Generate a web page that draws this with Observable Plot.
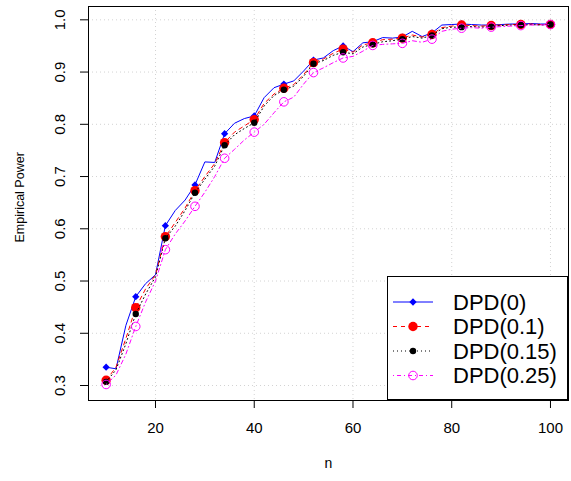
<!DOCTYPE html>
<html>
<head>
<meta charset="utf-8">
<script src="https://cdn.jsdelivr.net/npm/d3@7"></script>
<script src="https://cdn.jsdelivr.net/npm/@observablehq/plot@0.6"></script>
<style>
  body { margin: 0; background: white; }
</style>
</head>
<body>
<div id="chart"></div>
<script>
// sample sizes
const nValues = [10,12,14,16,18,20,22,24,26,28,30,32,34,36,38,40,42,44,46,48,50,52,54,56,58,60,62,64,66,68,70,72,74,76,78,80,82,84,86,88,90,92,94,96,98,100];
// empirical power for each DPD tuning parameter
const dpd0 = [0.335,0.332,0.415,0.470,0.495,0.512,0.606,0.635,0.655,0.684,0.728,0.727,0.782,0.802,0.811,0.816,0.851,0.870,0.877,0.883,0.902,0.923,0.927,0.941,0.950,0.939,0.956,0.958,0.966,0.965,0.967,0.978,0.968,0.975,0.990,0.991,0.992,0.991,0.990,0.990,0.991,0.992,0.992,0.993,0.992,0.992];
const dpd01 = [0.310,0.335,0.390,0.449,0.485,0.512,0.585,0.612,0.640,0.673,0.700,0.725,0.765,0.785,0.797,0.809,0.840,0.858,0.869,0.876,0.895,0.918,0.925,0.936,0.944,0.938,0.952,0.956,0.962,0.963,0.965,0.971,0.967,0.972,0.985,0.988,0.990,0.989,0.988,0.989,0.990,0.991,0.991,0.992,0.991,0.991];
const dpd015 = [0.307,0.330,0.380,0.437,0.475,0.508,0.582,0.605,0.635,0.669,0.695,0.720,0.760,0.780,0.792,0.803,0.835,0.855,0.866,0.873,0.892,0.916,0.922,0.932,0.938,0.935,0.948,0.953,0.958,0.960,0.963,0.968,0.965,0.970,0.983,0.986,0.986,0.987,0.986,0.987,0.989,0.990,0.990,0.991,0.990,0.991];
const dpd025 = [0.302,0.320,0.360,0.413,0.460,0.500,0.560,0.590,0.615,0.643,0.670,0.700,0.735,0.752,0.770,0.785,0.800,0.822,0.843,0.852,0.877,0.899,0.908,0.918,0.927,0.930,0.940,0.951,0.953,0.954,0.955,0.960,0.957,0.963,0.978,0.982,0.984,0.985,0.984,0.986,0.987,0.988,0.989,0.990,0.990,0.991];
// markers are drawn at these sample sizes
const markerN = [10,16,22,28,34,40,46,52,58,64,70,76,82,88,94,100];
const seriesNames = ["DPD(0)", "DPD(0.1)", "DPD(0.15)", "DPD(0.25)"];
const xTicks = [20, 40, 60, 80, 100];
const yTicks = [0.3, 0.4, 0.5, 0.6, 0.7, 0.8, 0.9, 1.0];
const xLabel = "n";
const yLabel = "Empirical Power";

const seriesValues = [dpd0, dpd01, dpd015, dpd025];
const styles = [
  {stroke: "#0000ff", dash: null, symbol: "square", rotate: 45, r: 2.9, fill: "#0000ff", mstroke: "none"},
  {stroke: "#ff0000", dash: "4,4", symbol: "circle", rotate: 0, r: 4.7, fill: "#ff0000", mstroke: "none"},
  {stroke: "#000000", dash: "1,3", symbol: "circle", rotate: 0, r: 3.2, fill: "#000000", mstroke: "none"},
  {stroke: "#ff00ff", dash: "1,3,4,3", symbol: "circle", rotate: 0, r: 4.3, fill: "none", mstroke: "#ff00ff"}
];

const seriesMarks = [];
seriesNames.forEach((name, i) => {
  const rows = nValues.map((n, j) => ({n, v: seriesValues[i][j], series: name}));
  const pts = rows.filter(d => markerN.includes(d.n));
  const s = styles[i];
  seriesMarks.push(Plot.line(rows, {x: "n", y: "v", stroke: s.stroke, strokeWidth: 1, strokeDasharray: s.dash}));
  seriesMarks.push(Plot.dot(pts, {x: "n", y: "v", symbol: s.symbol, rotate: s.rotate, r: s.r, fill: s.fill, stroke: s.mstroke, strokeWidth: 1}));
});

const chart = Plot.plot({
  width: 571,
  height: 481,
  marginLeft: 88,
  marginRight: 3,
  marginTop: 6,
  marginBottom: 81,
  x: {domain: [6.43, 103.65]},
  y: {domain: [0.2713, 1.0255]},
  style: {fontFamily: "'Liberation Sans', Arial, sans-serif", fontSize: "15px", background: "white", color: "black", overflow: "visible"},
  marks: [
    Plot.gridX({ticks: xTicks, stroke: "#d3d3d3", strokeOpacity: 1, strokeDasharray: "1,3"}),
    Plot.gridY({ticks: yTicks, stroke: "#d3d3d3", strokeOpacity: 1, strokeDasharray: "1,3"}),
    ...seriesMarks,
    Plot.frame({stroke: "black"}),
    Plot.axisX({ticks: xTicks, tickSize: 8, tickPadding: 14, fontSize: 15, label: null}),
    Plot.axisY({ticks: yTicks, tickSize: 8, tickFormat: () => "", label: null}),
    Plot.text(yTicks, {y: d => d, text: d => d.toFixed(1), frameAnchor: "left", dx: -28, rotate: -90, fontSize: 15, textAnchor: "middle", lineAnchor: "middle"}),
    Plot.text([xLabel], {text: d => d, frameAnchor: "bottom", dy: 67, fontSize: 14}),
    Plot.text([yLabel], {text: d => d, frameAnchor: "left", dx: -69, dy: 39, rotate: -90, fontSize: 12.5})
  ]
});

// legend (bottom-right, inside the plot box)
const svg = d3.select(chart);
const lg = svg.append("g")
  .attr("font-family", "'Liberation Sans', Arial, sans-serif")
  .attr("text-anchor", "start");
lg.append("rect")
  .attr("x", 387.5).attr("y", 276.5).attr("width", 180).attr("height", 123)
  .attr("fill", "white").attr("stroke", "black");
seriesNames.forEach((name, i) => {
  const s = styles[i];
  const cy = 302 + i * 24.5;
  lg.append("line")
    .attr("x1", 393).attr("x2", 433).attr("y1", cy).attr("y2", cy)
    .attr("stroke", s.stroke).attr("stroke-dasharray", s.dash);
  const sym = s.symbol === "square" ? d3.symbolSquare : d3.symbolCircle;
  lg.append("path")
    .attr("d", d3.symbol(sym, Math.PI * s.r * s.r)())
    .attr("transform", `translate(413,${cy}) rotate(${s.rotate})`)
    .attr("fill", s.fill).attr("stroke", s.mstroke);
  lg.append("text")
    .attr("x", 453).attr("y", cy).attr("dy", "0.35em")
    .attr("text-anchor", "start")
    .attr("font-size", 22).attr("fill", "black")
    .text(name);
});

document.getElementById("chart").appendChild(chart);
</script>
</body>
</html>
